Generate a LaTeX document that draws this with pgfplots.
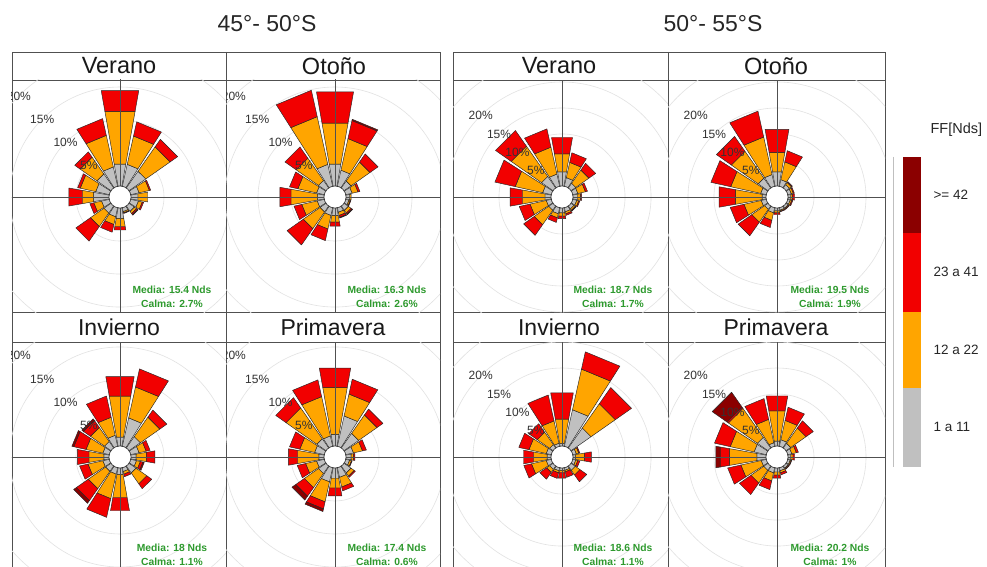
\documentclass[border=0pt]{standalone}
\usepackage{pgfplots}
\pgfplotsset{compat=1.18}
\usepackage{pgfplotstable}
\usepackage{fontspec}
\setmainfont{Liberation Sans}

\definecolor{cG}{HTML}{C0C0C0}
\definecolor{cO}{HTML}{FFA500}
\definecolor{cR}{HTML}{F20000}
\definecolor{cD}{HTML}{8B0000}
\definecolor{cGreen}{HTML}{2E9A2E}
\definecolor{frame}{HTML}{505050}
\definecolor{ringc}{HTML}{E2E2E2}

% dir = compass direction (deg); g,o,r,d = % of time in 1-11, 12-22, 23-41, >=42 Nds
\pgfplotstableread{
dir g o r d
0     3.4 8.1 3.2 0
22.5  3.4 4.4 2.2 0
45    3.1 4.5 1.4 0
67.5  1.3 1.6 0.2 0
90    1.1 1.5 0 0
112.5 1.2 0.6 0.2 0
135   1.0 0.4 0.2 0.1
157.5 0.6 0.2 0.1 0
180   1.6 1.3 0.5 0
202.5 1.4 1.2 1.2 0
225   1.3 2.5 2.7 0
247.5 1.2 1.2 0.6 0
270   2.4 1.7 2.1 0
292.5 2.1 2.4 0.4 0
315   2.6 3.1 1.0 0
337.5 3.0 4.9 2.6 0
}\LV
\pgfplotstableread{
dir g o r d
0     3.4 6.3 4.8 0
22.5  2.5 4.9 2.8 0.2
45    1.3 3.5 1.5 0
67.5  1.0 0.9 0.3 0
90    0.6 0.2 0 0
112.5 0.5 0.2 0.1 0
135   0.8 0.5 0.2 0.1
157.5 0.7 0.5 0.3 0.1
180   1.2 1.0 0.6 0
202.5 1.2 2.1 1.8 0
225   1.1 3.1 3.0 0
247.5 1.1 2.4 1.2 0
270   1.0 4.1 1.7 0
292.5 1.2 2.9 1.3 0
315   1.4 4.1 2.1 0
337.5 3.4 7.4 4.1 0
}\LO
\pgfplotstableread{
dir g o r d
0     1.4 6.3 3.0 0
22.5  4.4 4.8 2.8 0
45    2.1 3.6 1.3 0
67.5  1.3 1.1 0.6 0
90    0.8 1.6 1.3 0
112.5 0.9 0.6 0.4 0.2
135   1.3 2.0 0.9 0
157.5 0.6 0.4 0.4 0
180   1.0 3.6 2.0 0
202.5 1.0 3.8 2.9 0
225   1.0 3.2 2.2 0.5
247.5 1.0 2.3 1.3 0
270   0.8 2.3 1.8 0
292.5 1.0 2.6 1.9 0.3
315   1.2 2.6 1.3 0.3
337.5 1.7 2.8 3.3 0
}\LI
\pgfplotstableread{
dir g o r d
0     1.8 7.2 3.0 0
22.5  4.7 3.4 2.3 0
45    2.7 3.4 1.1 0
67.5  1.2 1.4 0.6 0
90    0.8 0.4 0.2 0
112.5 0.6 0.3 0.1 0
135   1.3 0.6 0.2 0
157.5 1.5 1.5 0.6 0
180   1.6 1.5 1.2 0
202.5 2.2 3.1 1.1 0.4
225   1.4 2.6 1.6 0.7
247.5 1.2 1.7 1.3 0
270   0.8 3.3 1.4 0
292.5 1.5 2.3 1.6 0
315   1.7 5.7 1.9 0
337.5 1.6 6.1 2.6 0
}\LP
\pgfplotstableread{
dir g o r d
0     2.8 3.5 3.2 0
22.5  1.7 3.0 1.9 0
45    1.1 3.1 1.6 0
67.5  1.0 1.5 0.4 0
90    0.9 0.6 0.2 0
112.5 0.8 0.4 0.2 0
135   0.7 0.3 0.1 0.1
157.5 0.8 0.4 0.3 0
180   1.0 0.6 0.5 0
202.5 1.2 0.8 0.9 0
225   1.0 3.4 2.5 0
247.5 1.0 3.2 2.1 0
270   1.2 4.4 2.4 0
292.5 1.7 5.4 4.0 0
315   2.7 7.1 3.7 0
337.5 2.4 5.3 3.6 0
}\RV
\pgfplotstableread{
dir g o r d
0     2.8 3.8 4.5 0
22.5  1.3 3.5 2.2 0
45    0.8 0.5 0.2 0
67.5  0.7 0.4 0.2 0
90    0.6 0.3 0.4 0
112.5 0.5 0.3 0.2 0
135   0.5 0.2 0.1 0
157.5 0.5 0.2 0.1 0
180   0.6 0.4 0.3 0
202.5 1.0 1.5 1.4 0
225   0.8 3.0 3.2 0
247.5 1.0 3.4 2.7 0
270   0.8 5.2 3.2 0
292.5 1.1 5.9 3.9 0
315   2.3 6.3 3.5 0
337.5 2.3 7.4 5.1 0
}\RO
\pgfplotstableread{
dir g o r d
0     0.5 4.8 5.1 0
22.5  7.2 8.0 3.4 0
45    4.7 5.7 3.8 0
67.5  0.7 0.5 0.2 0
90    0.5 1.8 1.3 0
112.5 0.6 0.4 0.4 0
135   1.0 1.1 1.6 0
157.5 0.5 0.3 1.1 0
180   0.5 0.4 1.1 0
202.5 0.6 0.4 1.1 0
225   0.8 0.7 1.6 0
247.5 1.0 2.9 1.5 0
270   0.8 2.6 2.0 0
292.5 1.0 3.4 2.0 0
315   0.8 2.9 2.0 0
337.5 0.6 4.4 5.1 0
}\RI
\pgfplotstableread{
dir g o r d
0     1.0 5.9 2.9 0
22.5  1.3 3.8 2.6 0
45    1.1 3.6 1.7 0
67.5  0.8 0.9 0.4 0
90    0.6 0.4 0.3 0
112.5 0.5 0.2 0.1 0
135   0.5 0.2 0.1 0
157.5 0.6 0.4 0.4 0
180   0.8 0.6 0.6 0
202.5 1.0 1.6 1.7 0
225   1.0 3.0 2.7 0
247.5 1.0 4.0 2.6 0
270   1.8 5.4 1.8 0.8
292.5 2.4 4.7 3.1 0
315   2.5 6.8 0.3 3.5
337.5 0.7 4.6 4.1 0
}\RP

\pgfplotsset{
  roseax/.style={anchor=south west, scale only axis, xtick=\empty, ytick=\empty,
    axis line style={draw=frame, line width=0.9pt}, clip=true},
  wedge/.style={data cs=polar, draw=black!85, line width=0.45pt, line join=round},
}

\newcommand\wedgeplot[3]{%
  \ifdim #3pt>#2pt
    \edef\tmp{\noexpand\addplot[wedge,fill=#1] coordinates {(\ta,#2) (\ta,#3) (\tb,#3) (\tb,#2)} --cycle;}\tmp
  \fi}

% #1 table, #2 radial offset (calm circle) in % units
\newcommand\drawrose[2]{%
  \draw[ringc, line width=0.6pt] (axis cs:0,0) circle[radius=#2+5];
  \draw[ringc, line width=0.6pt] (axis cs:0,0) circle[radius=#2+10];
  \draw[ringc, line width=0.6pt] (axis cs:0,0) circle[radius=#2+15];
  \draw[ringc, line width=0.6pt] (axis cs:0,0) circle[radius=#2+20];
  \draw[ringc, line width=0.6pt] (axis cs:0,0) circle[radius=#2+25];
  \pgfplotsinvokeforeach{0,...,15}{%
    \pgfplotstablegetelem{##1}{dir}\of{#1}\let\vdir\pgfplotsretval
    \pgfplotstablegetelem{##1}{g}\of{#1}\let\vg\pgfplotsretval
    \pgfplotstablegetelem{##1}{o}\of{#1}\let\vo\pgfplotsretval
    \pgfplotstablegetelem{##1}{r}\of{#1}\let\vr\pgfplotsretval
    \pgfplotstablegetelem{##1}{d}\of{#1}\let\vd\pgfplotsretval
    \pgfmathsetmacro\ra{#2}%
    \pgfmathsetmacro\rb{\ra+\vg}%
    \pgfmathsetmacro\rc{\rb+\vo}%
    \pgfmathsetmacro\rd{\rc+\vr}%
    \pgfmathsetmacro\re{\rd+\vd}%
    \pgfmathsetmacro\ta{100-\vdir}%
    \pgfmathsetmacro\tb{80-\vdir}%
    \wedgeplot{cG}{\ra}{\rb}%
    \wedgeplot{cO}{\rb}{\rc}%
    \wedgeplot{cR}{\rc}{\rd}%
    \wedgeplot{cD}{\rd}{\re}%
  }%
  \draw[frame, line width=0.8pt] (axis cs:-40,0) -- (axis cs:40,0);
  \draw[frame, line width=0.8pt] (axis cs:0,-40) -- (axis cs:0,40);
  \draw[black!80, line width=0.6pt, fill=white] (axis cs:0,0) circle[radius=#2];
  \node[text=black!80, font=\fontsize{12}{14}\selectfont] at (axis cs:{-0.7071*(#2+20)},{0.7071*(#2+20)}) {20\%};
  \node[text=black!80, font=\fontsize{12}{14}\selectfont] at (axis cs:{-0.7071*(#2+15)},{0.7071*(#2+15)}) {15\%};
  \node[text=black!80, font=\fontsize{12}{14}\selectfont] at (axis cs:{-0.7071*(#2+10)},{0.7071*(#2+10)}) {10\%};
  \node[text=black!80, font=\fontsize{12}{14}\selectfont] at (axis cs:{-0.7071*(#2+5)},{0.7071*(#2+5)}) {5\%};
}

\newcommand\stats[4]{%
  \node[text=cGreen, align=center, font=\fontsize{10.3}{13.5}\selectfont\bfseries] at (#1pt,#2pt) {Media: #3 Nds\\Calma: #4\%};}

\begin{document}
\begin{tikzpicture}
\useasboundingbox (0pt,0pt) rectangle (987pt,566pt);
\clip (0pt,0pt) rectangle (987pt,566pt);
\fill[white] (0pt,0pt) rectangle (987pt,566pt);

% group frames and title rows
\foreach \xa/\xb/\xc in {12/226/440, 453/668/885} {
  \draw[frame, line width=0.9pt] (\xa pt,514pt) rectangle (\xc pt,-20pt);
  \draw[frame, line width=0.9pt] (\xb pt,514pt) -- (\xb pt,-20pt);
  \draw[frame, line width=0.9pt] (\xa pt,486pt) -- (\xc pt,486pt);
  \draw[frame, line width=0.9pt] (\xa pt,254pt) -- (\xc pt,254pt);
  \draw[frame, line width=0.9pt] (\xa pt,224pt) -- (\xc pt,224pt);
}

% ---- 45-50 S
\begin{axis}[roseax, at={(12pt,254pt)}, width=214pt, height=232pt,
  xmin=-16.36, xmax=16.06, ymin=-17.42, ymax=17.73]
  \drawrose{\LV}{1.67}
\end{axis}
\begin{axis}[roseax, at={(226pt,254pt)}, width=214pt, height=232pt,
  xmin=-16.52, xmax=15.91, ymin=-17.42, ymax=17.73]
  \drawrose{\LO}{1.67}
\end{axis}
\begin{axis}[roseax, at={(12pt,-14pt)}, width=214pt, height=238pt,
  xmin=-16.36, xmax=16.06, ymin=-18.64, ymax=17.42]
  \drawrose{\LI}{1.67}
\end{axis}
\begin{axis}[roseax, at={(226pt,-14pt)}, width=214pt, height=238pt,
  xmin=-16.52, xmax=15.91, ymin=-18.64, ymax=17.42]
  \drawrose{\LP}{1.67}
\end{axis}
% ---- 50-55 S
\begin{axis}[roseax, at={(453pt,254pt)}, width=215pt, height=232pt,
  xmin=-20.96, xmax=20.38, ymin=-22.12, ymax=22.5]
  \drawrose{\RV}{2.12}
\end{axis}
\begin{axis}[roseax, at={(668pt,254pt)}, width=217pt, height=232pt,
  xmin=-20.96, xmax=20.77, ymin=-22.12, ymax=22.5]
  \drawrose{\RO}{2.12}
\end{axis}
\begin{axis}[roseax, at={(453pt,-14pt)}, width=215pt, height=238pt,
  xmin=-20.96, xmax=20.38, ymin=-23.65, ymax=22.12]
  \drawrose{\RI}{2.12}
\end{axis}
\begin{axis}[roseax, at={(668pt,-14pt)}, width=217pt, height=238pt,
  xmin=-20.96, xmax=20.77, ymin=-23.65, ymax=22.12]
  \drawrose{\RP}{2.12}
\end{axis}

% titles
\node[font=\fontsize{23}{27}\selectfont, text=black!85] at (267pt,542pt) {45°- 50°S};
\node[font=\fontsize{23}{27}\selectfont, text=black!85] at (713pt,542pt) {50°- 55°S};
\foreach \xx/\tt in {119/Verano, 334/Otoño, 559/Verano, 776/Otoño}
  \node[font=\fontsize{23.5}{27}\selectfont, text=black!90] at (\xx pt,500pt) {\tt};
\foreach \xx/\tt in {119/Invierno, 333/Primavera, 559/Invierno, 776/Primavera}
  \node[font=\fontsize{23}{27}\selectfont, text=black!90] at (\xx pt,239pt) {\tt};

% stats
\stats{172}{269}{15.4}{2.7}
\stats{387}{269}{16.3}{2.6}
\stats{613}{269}{18.7}{1.7}
\stats{830}{269}{19.5}{1.9}
\stats{172}{11}{18}{1.1}
\stats{387}{11}{17.4}{0.6}
\stats{613}{11}{18.6}{1.1}
\stats{830}{11}{20.2}{1}

% legend
\node[anchor=west, font=\fontsize{14.5}{16}\selectfont, text=black!85] at (927pt,436pt) {FF[Nds]};
\draw[black!25, line width=0.6pt] (893pt,409pt) -- (893pt,99pt);
\fill[cD] (903pt,409pt) rectangle (921pt,333pt);
\fill[cR] (903pt,333pt) rectangle (921pt,254pt);
\fill[cO] (903pt,254pt) rectangle (921pt,178pt);
\fill[cG] (903pt,178pt) rectangle (921pt,99pt);
\node[anchor=west, font=\fontsize{13.5}{16}\selectfont, text=black!85] at (930pt,371pt) {>= 42};
\node[anchor=west, font=\fontsize{13.5}{16}\selectfont, text=black!85] at (930pt,294pt) {23 a 41};
\node[anchor=west, font=\fontsize{13.5}{16}\selectfont, text=black!85] at (930pt,216pt) {12 a 22};
\node[anchor=west, font=\fontsize{13.5}{16}\selectfont, text=black!85] at (930pt,139pt) {1 a 11};
\end{tikzpicture}
\end{document}
